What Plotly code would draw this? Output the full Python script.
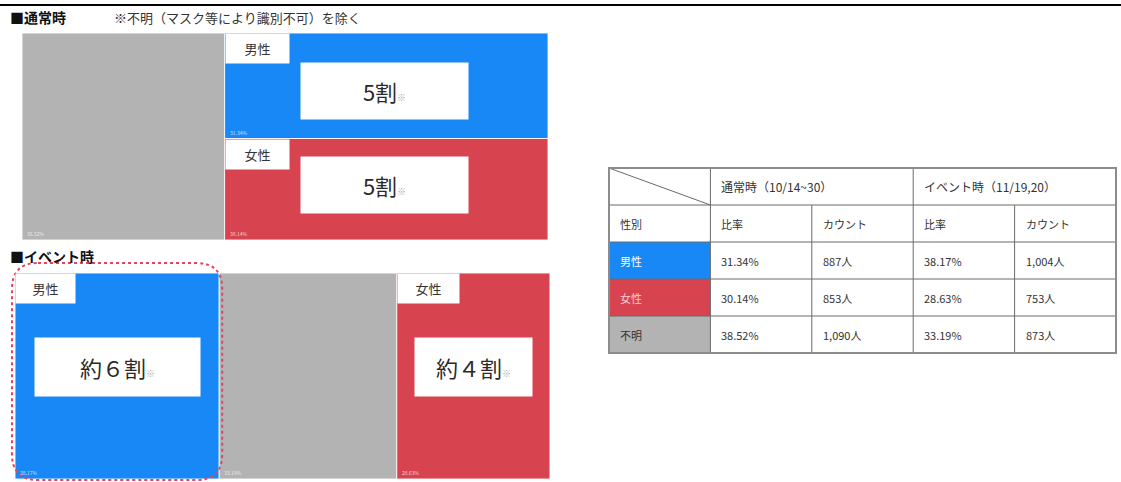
import plotly.graph_objects as go

W, H = 1121, 482
FONT = "Noto Sans CJK JP"

# ---------------- data ----------------
genders = ["男性", "女性", "不明"]
normal_share = [31.34, 30.14, 38.52]   # %
normal_count = [887, 853, 1090]        # 人
event_share = [38.17, 28.63, 33.19]    # %
event_count = [1004, 753, 873]         # 人
normal_big = ["5割", "5割"]            # 男性, 女性
event_big = ["約６割", "約４割"]        # 男性, 女性
period_headers = ["通常時（10/14~30）", "イベント時（11/19,20）"]
sub_headers = ["性別", "比率", "カウント", "比率", "カウント"]
section_titles = ["■通常時", "■イベント時"]
note_text = "※不明（マスク等により識別不可）を除く"

# ---------------- style ----------------
COL = {"男性": "#1888f7", "女性": "#d7434f", "不明": "#b3b3b3"}
TXT = "#333333"


def axis_range(p0, p1, d0, d1, q0, q1):
    """Range so that data d0..d1 sits at pixels p0..p1 while the axis spans q0..q1."""
    s = (d1 - d0) / (p1 - p0)
    return [d0 + (q0 - p0) * s, d0 + (q1 - p0) * s]


def xdom(a, b):
    return [a / W, b / W]


def ydom(a, b):  # a = top pixel, b = bottom pixel
    return [1 - b / H, 1 - a / H]


# pixel frames (x0, x1, ytop, ybottom) of each panel
TOP = (22, 548, 33, 240)
EVT = (15, 550, 273, 479)
TBL = (609, 1116, 168, 353)
PAD = 14

fig = go.Figure()

# ---------- 通常時: unknown column on the left, known split male / female ----------
m, f, u = normal_share
known = m + f
fig.add_bar(
    x=[u / 2, u + known / 2, u + known / 2],
    width=[u, known, known],
    base=[0, f / known, 0],
    y=[1, m / known, f / known],
    marker=dict(color=[COL["不明"], COL["男性"], COL["女性"]],
                line=dict(color="rgba(255,255,255,0.85)", width=1)),
    xaxis="x", yaxis="y", hoverinfo="skip", showlegend=False,
)

# ---------- イベント時: male | unknown | female side by side ----------
em, ef, eu = event_share
fig.add_bar(
    x=[em / 2, em + eu / 2, em + eu + ef / 2],
    width=[em, eu, ef],
    base=[0, 0, 0],
    y=[1, 1, 1],
    marker=dict(color=[COL["男性"], COL["不明"], COL["女性"]],
                line=dict(color="rgba(255,255,255,0.85)", width=1)),
    xaxis="x2", yaxis="y2", hoverinfo="skip", showlegend=False,
)

ann = []
shapes = []


def tag(text, x, y, xr, yr, w, h):
    ann.append(dict(text=text, x=x, y=y, xref=xr, yref=yr, xanchor="left", yanchor="top",
                    showarrow=False, bgcolor="white", width=w, height=h, borderpad=2,
                    font=dict(family=FONT, size=13, color=TXT)))


def bigbox(text, x, y, xr, yr, w, h, size, xs=0, ys=0):
    ann.append(dict(text=text + "<span style='font-size:9px;fill:#aaaaaa'>※</span>",
                    x=x, y=y, xref=xr, yref=yr, xanchor="center", yanchor="middle",
                    showarrow=False, bgcolor="white", width=w, height=h, borderpad=2,
                    xshift=xs, yshift=ys,
                    font=dict(family=FONT, size=size, color="#2a2a2a")))


def tiny(text, x, y, xr, yr):
    ann.append(dict(text=text, x=x, y=y, xref=xr, yref=yr, xanchor="left", yanchor="bottom",
                    showarrow=False, xshift=3, yshift=1,
                    font=dict(family=FONT, size=5, color="rgba(255,255,255,0.75)")))


# labels in the 通常時 tiles
tag(genders[0], u, 1, "x", "y", 59, 25)
tag(genders[1], u, f / known, "x", "y", 59, 25)
bigbox(normal_big[0], u + known / 2, f / known + m / known / 2, "x", "y", 163, 52, 22, -2, -5)
bigbox(normal_big[1], u + known / 2, f / known / 2, "x", "y", 163, 52, 22, -2, 4)
tiny(f"{u:.2f}%", 0, 0, "x", "y")
tiny(f"{m:.2f}%", u, f / known, "x", "y")
tiny(f"{f:.2f}%", u, 0, "x", "y")

# labels in the イベント時 tiles
tag(genders[0], 0, 1, "x2", "y2", 55, 25)
tag(genders[1], em + eu, 1, "x2", "y2", 57, 25)
bigbox(event_big[0], em / 2, 0.5, "x2", "y2", 161, 54, 22, 0, 9)
bigbox(event_big[1], em + eu + ef / 2, 0.5, "x2", "y2", 113, 54, 22, 0, 9)
tiny(f"{em:.2f}%", 0, 0, "x2", "y2")
tiny(f"{eu:.2f}%", em, 0, "x2", "y2")
tiny(f"{ef:.2f}%", em + eu, 0, "x2", "y2")

# dotted rounded frame around the event male tile (offsets in pixels -> data units)
sx = 100 / (EVT[1] - EVT[0])
sy = 1 / (EVT[3] - EVT[2])
x0, x1 = 0 - 3 * sx, em + 3 * sx
y0, y1 = 0 - 1 * sy, 1 + 10 * sy
rx, ry = 26 * sx, 26 * sy
path = (f"M {x0+rx},{y1} L {x1-rx},{y1} Q {x1},{y1} {x1},{y1-ry} "
        f"L {x1},{y0+ry} Q {x1},{y0} {x1-rx},{y0} L {x0+rx},{y0} "
        f"Q {x0},{y0} {x0},{y0+ry} L {x0},{y1-ry} Q {x0},{y1} {x0+rx},{y1} Z")
shapes.append(dict(type="path", path=path, xref="x2", yref="y2",
                   line=dict(color="#e2465e", width=2, dash="dot"), layer="above"))

# ---------------- table (columns 0..5, rows 0..5 top-down) ----------------
NC, NR = 5, 5
row_cols = [COL[g] for g in genders]
for i, g in enumerate(genders):
    shapes.append(dict(type="rect", xref="x3", yref="y3", x0=0, x1=1, y0=2 + i, y1=3 + i,
                       fillcolor=row_cols[i], line=dict(width=0), layer="below"))
GRID = dict(color="#6a6a6a", width=1)
for r in range(1, NR):
    shapes.append(dict(type="line", xref="x3", yref="y3", x0=0, x1=NC, y0=r, y1=r, line=GRID))
for c in range(1, NC):
    top = 0 if c in (1, 3) else 1
    shapes.append(dict(type="line", xref="x3", yref="y3", x0=c, x1=c, y0=top, y1=NR, line=GRID))
shapes.append(dict(type="line", xref="x3", yref="y3", x0=0, y0=0, x1=1, y1=1, line=GRID))
shapes.append(dict(type="rect", xref="x3", yref="y3", x0=0, x1=NC, y0=0, y1=NR,
                   line=dict(color="#8c8c8c", width=2)))


def cell(text, c, r, color=TXT, size=11):
    ann.append(dict(text=text, x=c, y=r + 0.5, xref="x3", yref="y3", xanchor="left",
                    yanchor="middle", xshift=9, showarrow=False,
                    font=dict(family=FONT, size=size, color=color)))


cell(period_headers[0], 1, 0, size=12)
cell(period_headers[1], 3, 0, size=12)
for c, t in enumerate(sub_headers):
    cell(t, c, 1)
name_cols = ["#ffffff", "#f7c9cd", TXT]
for i, g in enumerate(genders):
    r = 2 + i
    cell(g, 0, r, name_cols[i])
    cell(f"{normal_share[i]:.2f}%", 1, r)
    cell(f"{normal_count[i]:,}人", 2, r)
    cell(f"{event_share[i]:.2f}%", 3, r)
    cell(f"{event_count[i]:,}人", 4, r)

# ---------------- headings ----------------
ann.append(dict(text="<b>" + section_titles[0] + "</b>", x=8 / W, y=1 - 17 / H, xref="paper",
                yref="paper", xanchor="left", yanchor="middle", showarrow=False,
                font=dict(family=FONT, size=14, color="#111111")))
ann.append(dict(text=note_text, x=112 / W, y=1 - 18 / H, xref="paper", yref="paper",
                xanchor="left", yanchor="middle", showarrow=False,
                font=dict(family=FONT, size=13, color=TXT)))
ann.append(dict(text="<b>" + section_titles[1] + "</b>", x=8 / W, y=1 - 256 / H, xref="paper",
                yref="paper", xanchor="left", yanchor="middle", showarrow=False,
                font=dict(family=FONT, size=14, color="#111111")))
shapes.append(dict(type="line", xref="paper", yref="paper", x0=0, x1=1,
                   y0=1 - 5 / H, y1=1 - 5 / H, line=dict(color="#000000", width=2)))

hidden = dict(visible=False, fixedrange=True)
layout_axes = {}
for key, (fx0, fx1, fyt, fyb), (dx0, dx1), (dy0, dy1), rev in [
    ("", TOP, (0, 100), (0, 1), False),
    ("2", EVT, (0, 100), (0, 1), False),
    ("3", TBL, (0, NC), (0, NR), True),
]:
    qx0, qx1 = max(0, fx0 - PAD), min(W, fx1 + PAD)
    qyt, qyb = max(0, fyt - PAD), min(H, fyb + PAD)
    xr = axis_range(fx0, fx1, dx0, dx1, qx0, qx1)
    if rev:
        yr = axis_range(fyt, fyb, dy0, dy1, qyt, qyb)      # row 0 at the top
        yr = [yr[1], yr[0]]
    else:
        yr = axis_range(fyb, fyt, dy0, dy1, qyb, qyt)      # value 0 at the bottom
    layout_axes["xaxis" + key] = dict(hidden, domain=xdom(qx0, qx1), range=xr,
                                      anchor="y" + key)
    layout_axes["yaxis" + key] = dict(hidden, domain=ydom(qyt, qyb), range=yr,
                                      anchor="x" + key)

fig.update_layout(
    width=W, height=H, margin=dict(l=0, r=0, t=0, b=0),
    paper_bgcolor="white", plot_bgcolor="rgba(0,0,0,0)",
    barmode="overlay", showlegend=False,
    annotations=ann, shapes=shapes,
    font=dict(family=FONT),
    **layout_axes,
)

fig.write_html("out.html")
